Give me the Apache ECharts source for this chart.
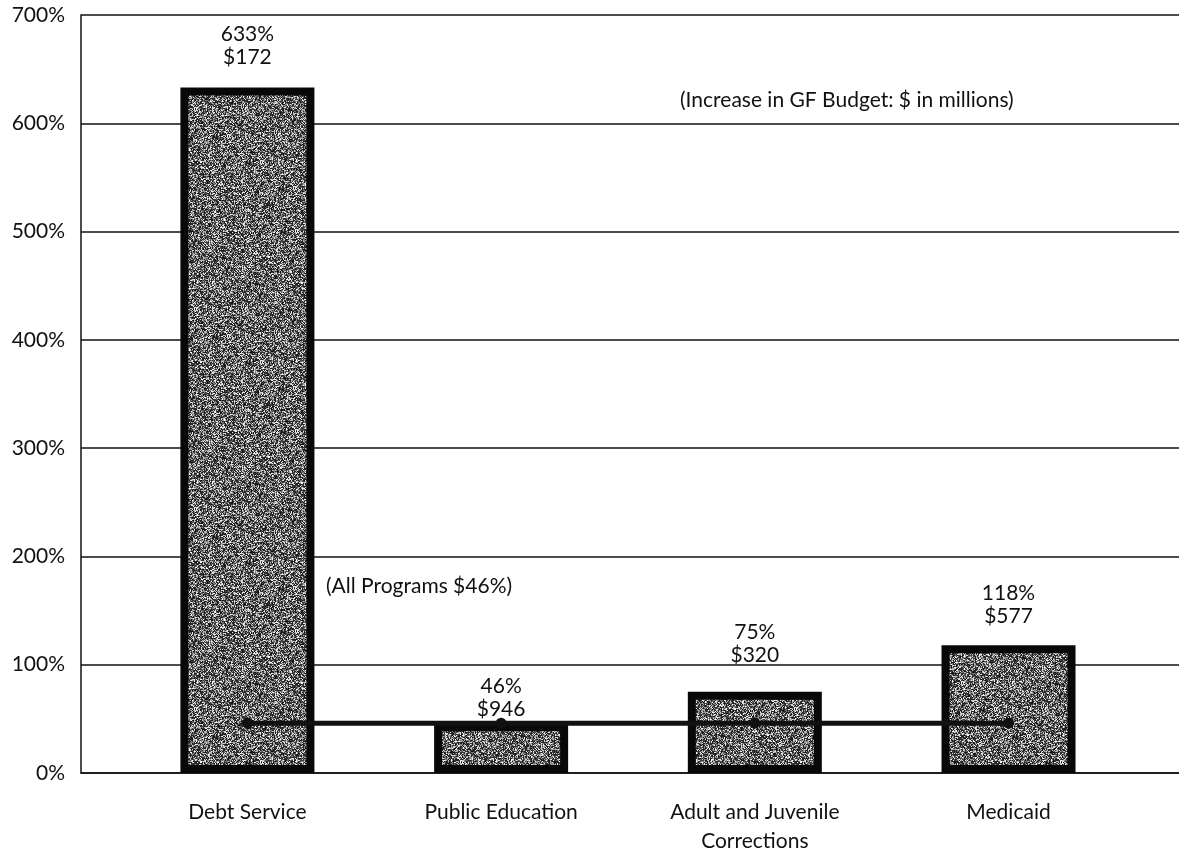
<!DOCTYPE html>
<html>
<head>
<meta charset="utf-8">
<script src="https://cdn.jsdelivr.net/npm/echarts@6/dist/echarts.min.js"></script>
<style>
  html, body { margin: 0; padding: 0; background: #fff; }
  #chart { width: 1179px; height: 850px; }
</style>
</head>
<body>
<div id="chart"></div>
<script>
// data
var programs = ['Debt Service', 'Public Education', 'Adult and Juvenile\nCorrections', 'Medicaid'];
var pctIncrease = [633, 46, 75, 118];
var dollarIncrease = [172, 946, 320, 577];
var allPrograms = [46, 46, 46, 46];

// label gap above each bar (px), as placed in the original
var labelGap = [19, 2, 25, 17];

var FONT = 'Lato';
var FS = 21;

// speckled gray fill for the bars (fixed seed, just a texture)
function makeTexture() {
  var n = 200;
  var c = document.createElement('canvas');
  c.width = n; c.height = n;
  var ctx = c.getContext('2d');
  var img = ctx.createImageData(n, n);
  var s = 98765;
  function rnd() { s = (s * 1103515245 + 12345) % 2147483648; return s / 2147483648; }
  for (var i = 0; i < n * n; i++) {
    var v = rnd() < 0.5 ? 90 + rnd() * 165 : 15 + rnd() * 55;
    img.data[i * 4] = v; img.data[i * 4 + 1] = v; img.data[i * 4 + 2] = v; img.data[i * 4 + 3] = 255;
  }
  ctx.putImageData(img, 0, 0);
  return c;
}
var tex = makeTexture();

var barData = pctIncrease.map(function (v, i) {
  return {
    value: [i, v],
    label: { distance: labelGap[i] }
  };
});
var lineData = allPrograms.map(function (v, i) { return [i, v]; });

chart = echarts.init(document.getElementById('chart'));

option = {
  backgroundColor: '#fff',
  animation: false,
  grid: { left: 81, right: 0, top: 15, bottom: 77, outerBoundsMode: 'none', containLabel: false },
  xAxis: {
    type: 'value',
    min: -0.656,
    max: 3.672,
    axisLine: { show: true, onZero: false, lineStyle: { color: '#111', width: 1.5 } },
    axisTick: { show: false },
    splitLine: { show: false },
    axisLabel: {
      customValues: [0, 1, 2, 3],
      formatter: function (v) { return programs[Math.round(v)]; },
      margin: 25,
      fontFamily: FONT,
      fontSize: FS,
      color: '#111',
      lineHeight: 29
    }
  },
  yAxis: {
    type: 'value',
    min: 0,
    max: 700,
    interval: 100,
    axisLine: { show: true, onZero: false, lineStyle: { color: '#111', width: 1.5 } },
    axisTick: { show: false },
    splitLine: { show: true, lineStyle: { color: '#111', width: 1.5 } },
    axisLabel: {
      formatter: '{value}%',
      margin: 16,
      fontFamily: FONT,
      fontSize: FS,
      color: '#111'
    }
  },
  series: [
    {
      type: 'bar',
      barWidth: 134,
      data: barData,
      itemStyle: {
        color: { image: tex, repeat: 'repeat' },
        borderColor: '#080808',
        borderWidth: 8
      },
      label: {
        show: true,
        position: 'top',
        fontFamily: FONT,
        fontSize: FS,
        color: '#111',
        lineHeight: 23,
        formatter: function (p) {
          return pctIncrease[p.dataIndex] + '%\n$' + dollarIncrease[p.dataIndex];
        }
      },
      z: 2
    },
    {
      type: 'line',
      data: lineData,
      symbol: 'circle',
      symbolSize: 11,
      lineStyle: { color: '#111', width: 5 },
      itemStyle: { color: '#111' },
      z: 5
    }
  ],
  graphic: [
    {
      type: 'text',
      left: 680,
      top: 90,
      style: { text: '(Increase in GF Budget: $ in millions)', font: FS + 'px ' + FONT, fill: '#111' }
    },
    {
      type: 'text',
      left: 326,
      top: 576,
      style: { text: '(All Programs $46%)', font: FS + 'px ' + FONT, fill: '#111' }
    }
  ]
};

chart.setOption(option);
</script>
</body>
</html>
